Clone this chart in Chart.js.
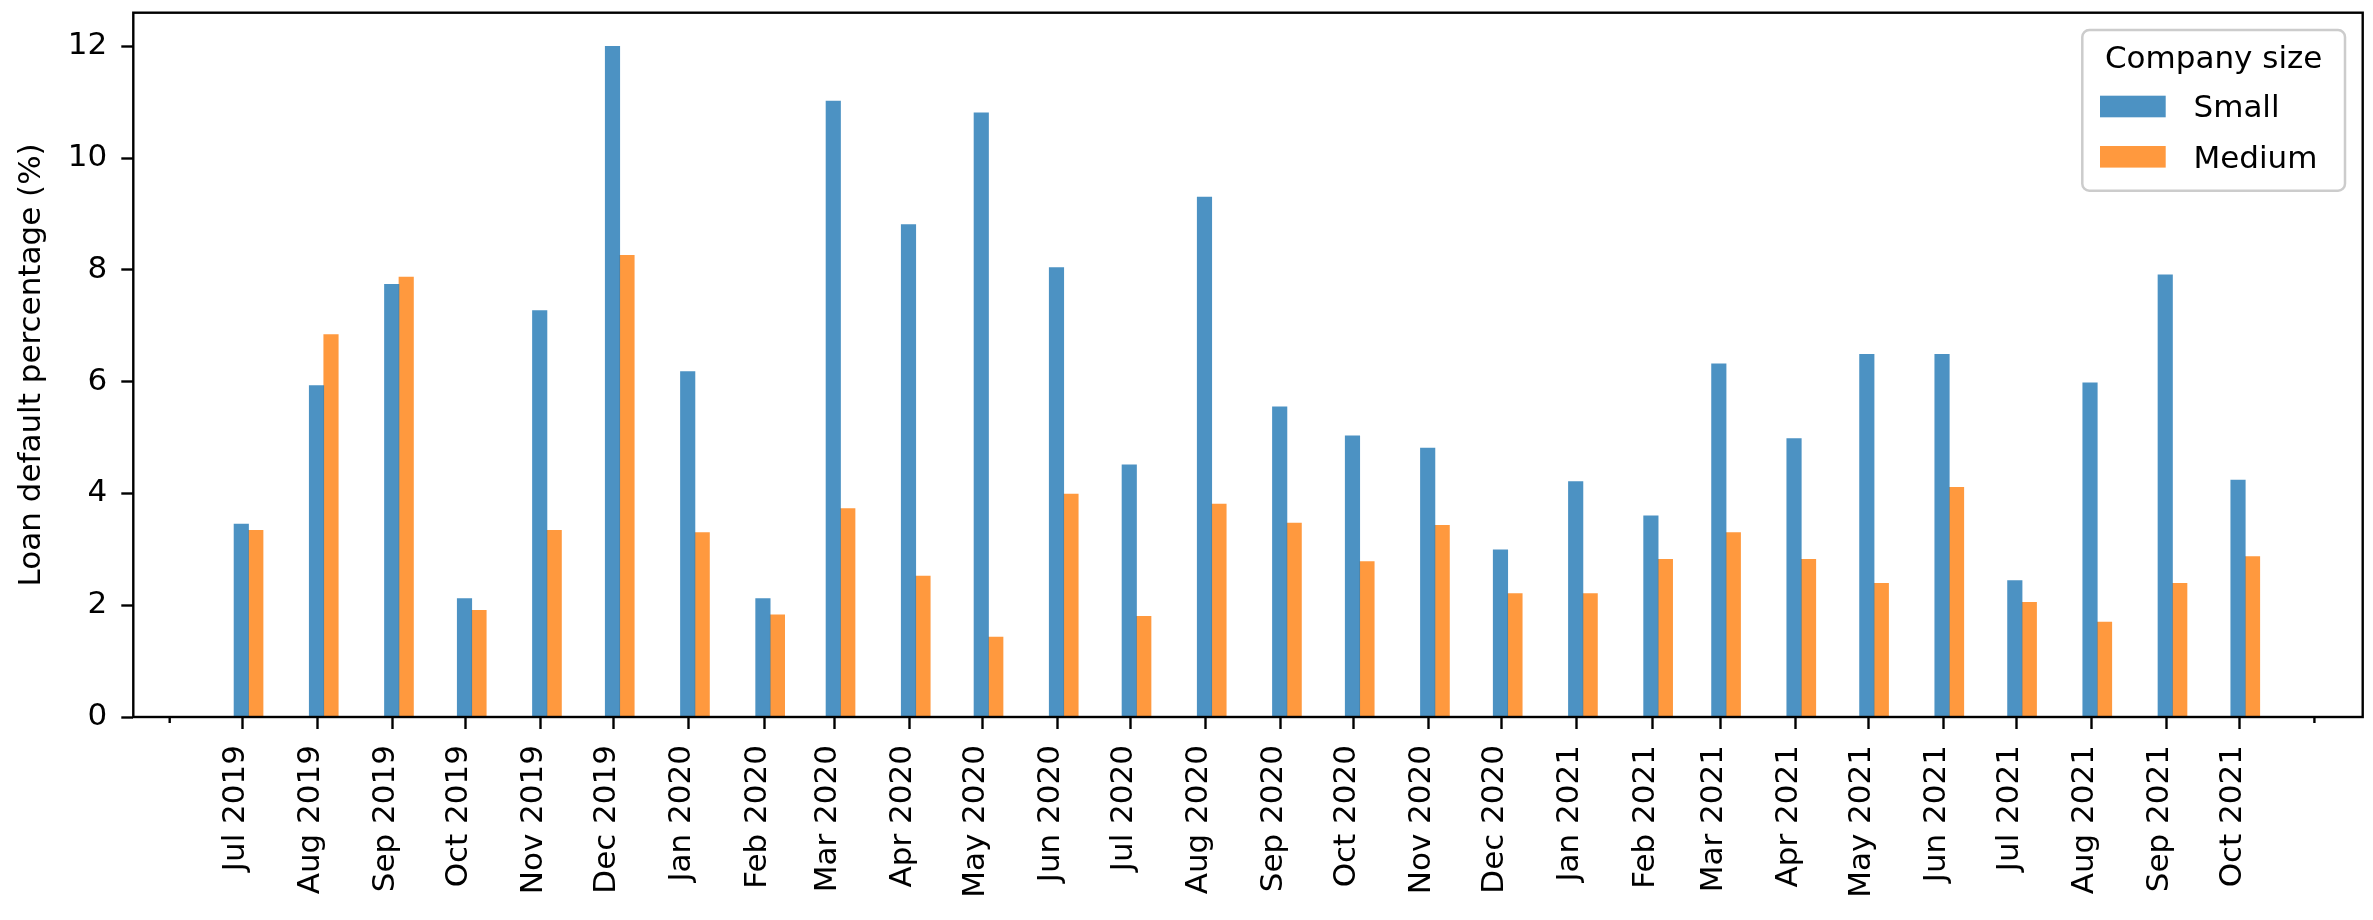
<!DOCTYPE html>
<html lang="en">

<head>
  <meta charset="UTF-8">
  <title>Loan default percentage by company size</title>
  <script src="https://cdn.jsdelivr.net/npm/chart.js"></script>
  <style>
    body {
      margin: 0;
      background: #fff;
    }
    canvas {
      display: block;
    }
  </style>
</head>

<body>
  <canvas id="loanChart" width="2373" height="920"></canvas>

  <script>
    const months = [
      'Jul 2019', 'Aug 2019', 'Sep 2019', 'Oct 2019', 'Nov 2019', 'Dec 2019',
      'Jan 2020', 'Feb 2020', 'Mar 2020', 'Apr 2020', 'May 2020', 'Jun 2020',
      'Jul 2020', 'Aug 2020', 'Sep 2020', 'Oct 2020', 'Nov 2020', 'Dec 2020',
      'Jan 2021', 'Feb 2021', 'Mar 2021', 'Apr 2021', 'May 2021', 'Jun 2021',
      'Jul 2021', 'Aug 2021', 'Sep 2021', 'Oct 2021'
    ];
    const small = [
      3.45, 5.93, 7.74, 2.12, 7.27, 12.0,
      6.18, 2.12, 11.02, 8.81, 10.81, 8.04,
      4.51, 9.30, 5.55, 5.03, 4.81, 2.99,
      4.21, 3.60, 6.32, 4.98, 6.49, 6.49,
      2.44, 5.98, 7.91, 4.24
    ];
    const medium = [
      3.34, 6.84, 7.87, 1.91, 3.34, 8.26,
      3.30, 1.83, 3.73, 2.52, 1.43, 3.99,
      1.80, 3.81, 3.47, 2.78, 3.43, 2.21,
      2.21, 2.82, 3.30, 2.82, 2.39, 4.11,
      2.05, 1.70, 2.39, 2.87
    ];
    const minorTickMonths = ['Jun 2019', 'Nov 2021'];
    const yTicks = [0, 2, 4, 6, 8, 10, 12];
    const seriesNames = ['Small', 'Medium'];
    const legendTitle = 'Company size';
    const yTitle = 'Loan default percentage (%)';

    const monthIndex = { Jan: 0, Feb: 1, Mar: 2, Apr: 3, May: 4, Jun: 5, Jul: 6, Aug: 7, Sep: 8, Oct: 9, Nov: 10, Dec: 11 };
    // days since the first month, so the x axis keeps real month lengths
    const dayOf = (label) => {
      const [m, y] = label.split(' ');
      return (Date.UTC(+y, monthIndex[m], 1) - Date.UTC(2019, 6, 1)) / 864e5;
    };
    const tickDays = months.map(dayOf);
    const barShift = 2.5; // bar pair sits a little right of its tick

    const FONT = 'DejaVu Sans';
    Chart.defaults.font.family = FONT;
    Chart.defaults.font.size = 31;
    Chart.defaults.color = '#000';

    const frame = {
      id: 'frame',
      afterDatasetsDraw(chart) {
        const { ctx, chartArea: a } = chart;
        const xs = chart.scales.x;
        ctx.save();
        ctx.strokeStyle = '#000';
        ctx.lineWidth = 2.4;
        ctx.strokeRect(a.left, a.top, a.right - a.left, a.bottom - a.top);
        // short minor ticks
        minorTickMonths.forEach((m) => {
          const px = xs.getPixelForValue(dayOf(m));
          ctx.beginPath();
          ctx.moveTo(px, a.bottom);
          ctx.lineTo(px, a.bottom + 6);
          ctx.stroke();
        });
        ctx.restore();
      }
    };

    const legendBox = {
      id: 'legendBox',
      afterDraw(chart) {
        const { ctx, chartArea: a } = chart;
        const w = 262.7, h = 160.7;
        const x = a.right - 17.7 - w, y = a.top + 17.3;
        ctx.save();
        ctx.beginPath();
        ctx.roundRect(x, y, w, h, 7);
        ctx.fillStyle = 'rgba(255,255,255,0.8)';
        ctx.fill();
        ctx.strokeStyle = '#cccccc';
        ctx.lineWidth = 2.5;
        ctx.stroke();
        ctx.font = `31px "${FONT}"`;
        ctx.fillStyle = '#000';
        ctx.textBaseline = 'alphabetic';
        ctx.textAlign = 'center';
        ctx.fillText(legendTitle, x + w / 2, y + 38.3);
        ctx.textAlign = 'left';
        chart.data.datasets.forEach((ds, i) => {
          const top = y + 65.7 + i * 50.3;
          ctx.fillStyle = ds.backgroundColor;
          ctx.fillRect(x + 17.7, top, 65.7, 21.6);
          ctx.fillStyle = '#000';
          ctx.fillText(ds.label, x + 111.2, top + 21.6);
        });
        ctx.restore();
      }
    };

    const ctx = document.getElementById('loanChart').getContext('2d');
    new Chart(ctx, {
      type: 'bar',
      data: {
        datasets: [
          {
            label: seriesNames[0],
            data: small.map((v, i) => ({ x: tickDays[i] + barShift, y: v })),
            backgroundColor: 'rgba(31,119,180,0.8)',
          },
          {
            label: seriesNames[1],
            data: medium.map((v, i) => ({ x: tickDays[i] + barShift, y: v })),
            backgroundColor: 'rgba(255,127,14,0.8)',
          },
        ],
      },
      options: {
        responsive: false,
        animation: false,
        devicePixelRatio: 1,
        barThickness: 14.5,
        layout: { padding: { top: 12.7, right: 10.3, left: 0, bottom: 0 } },
        plugins: {
          legend: { display: false },
          tooltip: { enabled: false },
        },
        scales: {
          x: {
            type: 'linear',
            offset: false,
            min: tickDays[0] - 45,
            max: tickDays[tickDays.length - 1] + 50.9,
            afterBuildTicks: (scale) => {
              scale.ticks = tickDays.map((v) => ({ value: v }));
            },
            afterFit: (scale) => {
              scale.height = 203;
              scale.paddingLeft = 0;
              scale.paddingRight = 0;
            },
            grid: { offset: false, drawOnChartArea: false, tickLength: 12, tickWidth: 2.4, tickColor: '#000' },
            border: { display: false },
            ticks: {
              autoSkip: false,
              minRotation: 90,
              maxRotation: 90,
              padding: 16,
              labelOffset: -6.5,
              callback: (value, index) => months[index],
            },
          },
          y: {
            min: 0,
            max: 12.6,
            afterBuildTicks: (scale) => {
              scale.ticks = yTicks.map((v) => ({ value: v }));
            },
            afterFit: (scale) => {
              scale.width = 133.3;
              scale.paddingTop = 0;
              scale.paddingBottom = 0;
            },
            grid: { drawOnChartArea: false, tickLength: 12, tickWidth: 2.4, tickColor: '#000' },
            border: { display: false },
            ticks: { padding: 14 },
            title: {
              display: true,
              text: yTitle,
              padding: { top: 13, bottom: 0 },
            },
          },
        },
      },
      plugins: [frame, legendBox],
    });
  </script>
</body>

</html>
